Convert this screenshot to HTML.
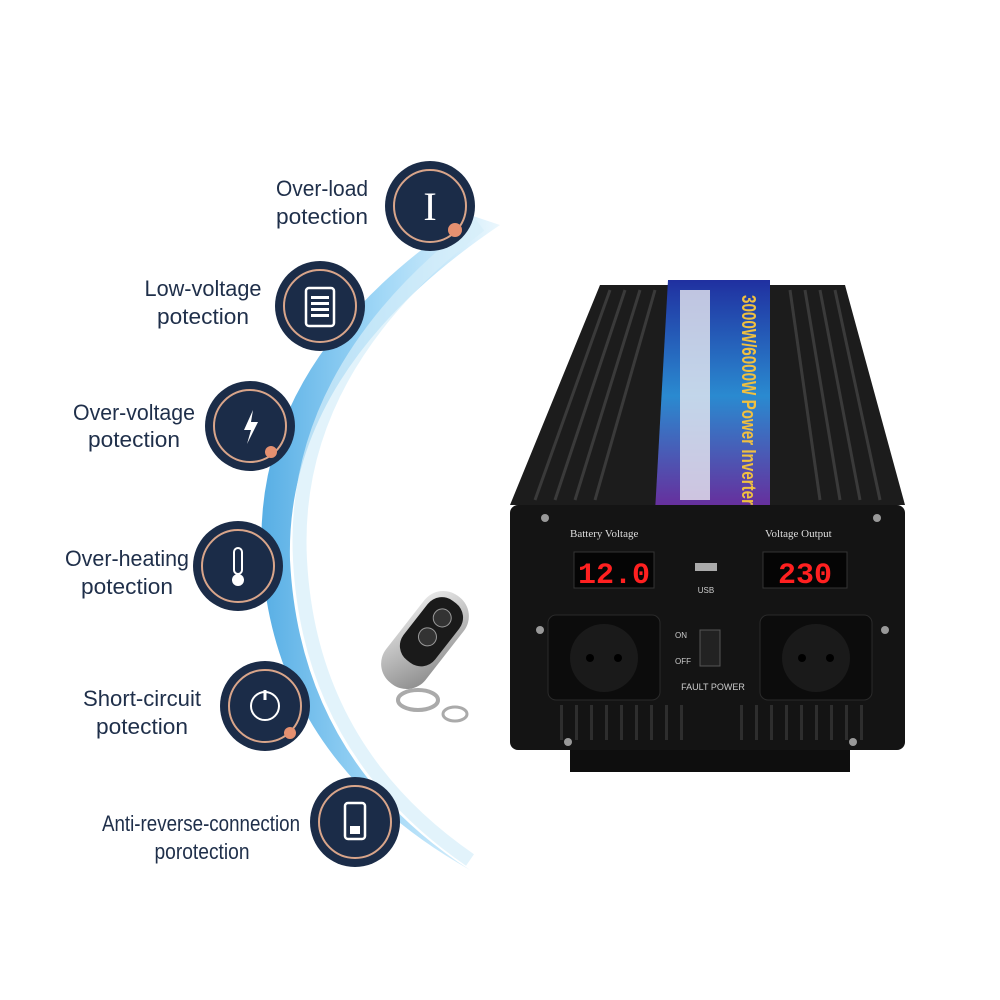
<!DOCTYPE html>
<html><head><meta charset="utf-8"><style>
html,body{margin:0;padding:0;background:#fff}
svg{display:block}
text{font-family:"Liberation Sans",sans-serif}
</style></head><body>
<svg width="1000" height="1000" viewBox="0 0 1000 1000">
<defs>
<linearGradient id="arc" x1="0" y1="0" x2="1" y2="0">
<stop offset="0" stop-color="#3aa0e0"/><stop offset="0.5" stop-color="#8fd0f5"/><stop offset="1" stop-color="#e8f6fd"/>
</linearGradient>
<linearGradient id="lab" x1="0" y1="0" x2="0" y2="1">
<stop offset="0" stop-color="#2030a0"/><stop offset="0.5" stop-color="#2a8ad0"/><stop offset="1" stop-color="#6a2a9a"/>
</linearGradient>
<linearGradient id="sil" x1="0" y1="0" x2="1" y2="1">
<stop offset="0" stop-color="#eee"/><stop offset="1" stop-color="#888"/>
</linearGradient>
</defs>
<path d="M470 215 Q250 360 262 560 Q275 760 470 870 Q300 760 290 560 Q285 370 500 225 Z" fill="url(#arc)" opacity="0.85"/>
<path d="M480 225 Q290 370 300 560 Q310 750 470 860" fill="none" stroke="#d6eefa" stroke-width="14" opacity="0.7"/>
<g stroke="#d9a58a" stroke-width="2" fill="#1b2c48">
<circle cx="430" cy="206" r="45" stroke="none"/><circle cx="430" cy="206" r="36" fill="none"/>
<circle cx="320" cy="306" r="45" stroke="none"/><circle cx="320" cy="306" r="36" fill="none"/>
<circle cx="250" cy="426" r="45" stroke="none"/><circle cx="250" cy="426" r="36" fill="none"/>
<circle cx="238" cy="566" r="45" stroke="none"/><circle cx="238" cy="566" r="36" fill="none"/>
<circle cx="265" cy="706" r="45" stroke="none"/><circle cx="265" cy="706" r="36" fill="none"/>
<circle cx="355" cy="822" r="45" stroke="none"/><circle cx="355" cy="822" r="36" fill="none"/>
</g>
<g fill="#e59070"><circle cx="455" cy="230" r="7"/><circle cx="271" cy="452" r="6"/><circle cx="290" cy="733" r="6"/></g>
<g fill="#fff" stroke="#fff">
<text x="430" y="220" font-size="40" font-family="Liberation Serif" text-anchor="middle" stroke="none" style="font-family:'Liberation Serif'">I</text>
<rect x="306" y="288" width="28" height="38" rx="3" fill="none" stroke-width="2.5"/>
<rect x="311" y="296" width="18" height="3" stroke="none"/><rect x="311" y="302" width="18" height="3" stroke="none"/><rect x="311" y="308" width="18" height="3" stroke="none"/><rect x="311" y="314" width="18" height="3" stroke="none"/>
<path d="M253 410 L244 430 L251 430 L247 444 L258 422 L251 422 Z" stroke="none"/>
<rect x="234" y="548" width="8" height="26" rx="4" fill="none" stroke-width="2"/><circle cx="238" cy="580" r="6" stroke="none"/>
<circle cx="265" cy="706" r="14" fill="none" stroke-width="2"/><line x1="265" y1="690" x2="265" y2="700" stroke-width="3"/>
<rect x="345" y="803" width="20" height="36" rx="3" fill="none" stroke-width="2.5"/><rect x="350" y="826" width="10" height="8" stroke="none"/>
</g>
<g fill="#1f2f4a" font-size="22" text-anchor="middle" lengthAdjust="spacingAndGlyphs">
<text x="322" y="196" textLength="92" lengthAdjust="spacingAndGlyphs">Over-load</text><text x="322" y="224" textLength="92" lengthAdjust="spacingAndGlyphs">potection</text>
<text x="203" y="296" textLength="117" lengthAdjust="spacingAndGlyphs">Low-voltage</text><text x="203" y="324" textLength="92" lengthAdjust="spacingAndGlyphs">potection</text>
<text x="134" y="420" textLength="122" lengthAdjust="spacingAndGlyphs">Over-voltage</text><text x="134" y="447" textLength="92" lengthAdjust="spacingAndGlyphs">potection</text>
<text x="127" y="566" textLength="124" lengthAdjust="spacingAndGlyphs">Over-heating</text><text x="127" y="594" textLength="92" lengthAdjust="spacingAndGlyphs">potection</text>
<text x="142" y="706" textLength="118" lengthAdjust="spacingAndGlyphs">Short-circuit</text><text x="142" y="734" textLength="92" lengthAdjust="spacingAndGlyphs">potection</text>
<text x="201" y="831" textLength="198" lengthAdjust="spacingAndGlyphs">Anti-reverse-connection</text><text x="202" y="859" textLength="95" lengthAdjust="spacingAndGlyphs">porotection</text>
</g>
<!-- remote -->
<g transform="rotate(38 425 640)">
<rect x="400" y="585" width="50" height="110" rx="24" fill="url(#sil)"/>
<rect x="405" y="592" width="40" height="75" rx="18" fill="#1a1a1a"/>
<circle cx="425" cy="612" r="9" fill="#333" stroke="#999"/><circle cx="425" cy="636" r="9" fill="#333" stroke="#999"/>
</g>
<ellipse cx="418" cy="700" rx="20" ry="10" fill="none" stroke="#aaa" stroke-width="4"/>
<ellipse cx="455" cy="714" rx="12" ry="7" fill="none" stroke="#aaa" stroke-width="3"/>
<path d="M600 285 L845 285 L905 505 L510 505 Z" fill="#1c1c1c"/>
<g stroke="#3a3a3a" stroke-width="3">
<line x1="610" y1="290" x2="535" y2="500"/><line x1="625" y1="290" x2="555" y2="500"/><line x1="640" y1="290" x2="575" y2="500"/><line x1="655" y1="290" x2="595" y2="500"/>
<line x1="790" y1="290" x2="820" y2="500"/><line x1="805" y1="290" x2="840" y2="500"/><line x1="820" y1="290" x2="860" y2="500"/><line x1="835" y1="290" x2="880" y2="500"/>
</g>
<path d="M668 280 L770 280 L770 512 L655 512 Z" fill="url(#lab)"/>
<rect x="680" y="290" width="30" height="210" fill="#e8e8f0" opacity="0.8"/>
<text x="0" y="0" transform="translate(742 295) rotate(90)" font-size="20" fill="#f0c040" font-weight="bold" textLength="210" lengthAdjust="spacingAndGlyphs">3000W/6000W Power Inverter</text>
<rect x="510" y="505" width="395" height="245" rx="8" fill="#141414"/>
<rect x="570" y="750" width="280" height="22" fill="#0e0e0e"/>
<text x="570" y="537" font-size="11" fill="#ddd" style="font-family:'Liberation Serif'">Battery Voltage</text>
<text x="765" y="537" font-size="11" fill="#ddd" style="font-family:'Liberation Serif'">Voltage Output</text>
<rect x="574" y="552" width="80" height="36" fill="#050505" stroke="#333"/>
<text x="614" y="583" font-size="30" fill="#ff2020" text-anchor="middle" font-weight="bold" style="font-family:'Liberation Mono'">12.0</text>
<rect x="763" y="552" width="84" height="36" fill="#050505" stroke="#333"/>
<text x="805" y="583" font-size="30" fill="#ff2020" text-anchor="middle" font-weight="bold" style="font-family:'Liberation Mono'">230</text>
<rect x="695" y="563" width="22" height="8" fill="#aaa"/><text x="706" y="593" font-size="8" fill="#ccc" text-anchor="middle">USB</text>
<rect x="548" y="615" width="112" height="85" rx="8" fill="#0c0c0c" stroke="#2a2a2a"/>
<circle cx="604" cy="658" r="34" fill="#1a1a1a"/><circle cx="590" cy="658" r="4" fill="#000"/><circle cx="618" cy="658" r="4" fill="#000"/>
<rect x="760" y="615" width="112" height="85" rx="8" fill="#0c0c0c" stroke="#2a2a2a"/>
<circle cx="816" cy="658" r="34" fill="#1a1a1a"/><circle cx="802" cy="658" r="4" fill="#000"/><circle cx="830" cy="658" r="4" fill="#000"/>
<rect x="700" y="630" width="20" height="36" fill="#222" stroke="#555"/>
<text x="675" y="638" font-size="8" fill="#ccc">ON</text><text x="675" y="664" font-size="8" fill="#ccc">OFF</text>
<text x="713" y="690" font-size="9" fill="#ccc" text-anchor="middle">FAULT POWER</text>
<g fill="#2e2e2e">
<rect x="560" y="705" width="3" height="35"/><rect x="575" y="705" width="3" height="35"/><rect x="590" y="705" width="3" height="35"/><rect x="605" y="705" width="3" height="35"/><rect x="620" y="705" width="3" height="35"/><rect x="635" y="705" width="3" height="35"/><rect x="650" y="705" width="3" height="35"/><rect x="665" y="705" width="3" height="35"/><rect x="680" y="705" width="3" height="35"/><rect x="740" y="705" width="3" height="35"/><rect x="755" y="705" width="3" height="35"/><rect x="770" y="705" width="3" height="35"/><rect x="785" y="705" width="3" height="35"/><rect x="800" y="705" width="3" height="35"/><rect x="815" y="705" width="3" height="35"/><rect x="830" y="705" width="3" height="35"/><rect x="845" y="705" width="3" height="35"/><rect x="860" y="705" width="3" height="35"/>
</g>
<g fill="#999"><circle cx="545" cy="518" r="4"/><circle cx="877" cy="518" r="4"/><circle cx="540" cy="630" r="4"/><circle cx="885" cy="630" r="4"/><circle cx="568" cy="742" r="4"/><circle cx="853" cy="742" r="4"/></g>
</svg>
</body></html>
